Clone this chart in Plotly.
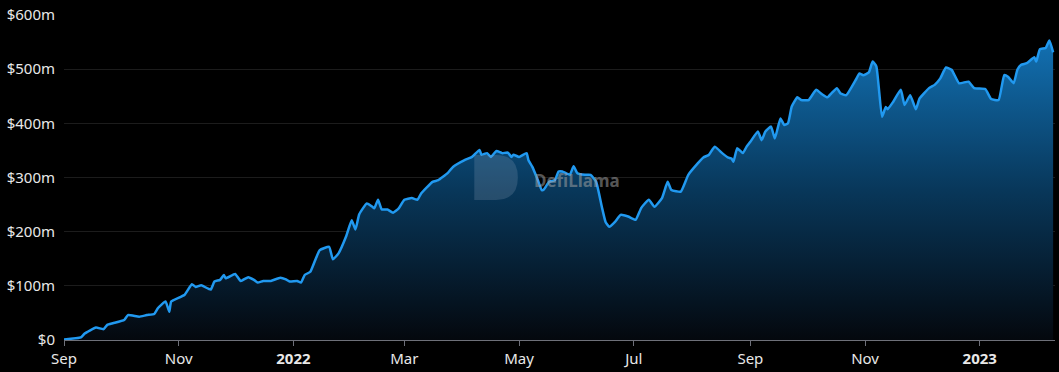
import plotly.graph_objects as go

dates = [
    "2021-09-01", "2021-09-10", "2021-09-12", "2021-09-18", "2021-09-22", "2021-09-24", "2021-09-27",
    "2021-10-03", "2021-10-05", "2021-10-11", "2021-10-15", "2021-10-19", "2021-10-21", "2021-10-25",
    "2021-10-27", "2021-10-28", "2021-11-04", "2021-11-08", "2021-11-10", "2021-11-13", "2021-11-18",
    "2021-11-20", "2021-11-23", "2021-11-25", "2021-11-26", "2021-12-01", "2021-12-04", "2021-12-08",
    "2021-12-11", "2021-12-13", "2021-12-16", "2021-12-20", "2021-12-25", "2021-12-28", "2021-12-30",
    "2022-01-03", "2022-01-05", "2022-01-07", "2022-01-10", "2022-01-13", "2022-01-15", "2022-01-20",
    "2022-01-22", "2022-01-25", "2022-01-29", "2022-02-01", "2022-02-03", "2022-02-05", "2022-02-09",
    "2022-02-12", "2022-02-13", "2022-02-15", "2022-02-17", "2022-02-20", "2022-02-23", "2022-02-26",
    "2022-03-01", "2022-03-05", "2022-03-08", "2022-03-10", "2022-03-16", "2022-03-19", "2022-03-24",
    "2022-03-27", "2022-04-02", "2022-04-06", "2022-04-10", "2022-04-11", "2022-04-14", "2022-04-16",
    "2022-04-19", "2022-04-22", "2022-04-25", "2022-04-27", "2022-04-28", "2022-05-01", "2022-05-05",
    "2022-05-06", "2022-05-08", "2022-05-11", "2022-05-13", "2022-05-14", "2022-05-17", "2022-05-20",
    "2022-05-22", "2022-05-24", "2022-05-28", "2022-05-30", "2022-06-01", "2022-06-05", "2022-06-08",
    "2022-06-11", "2022-06-14", "2022-06-16", "2022-06-18", "2022-06-21", "2022-06-24", "2022-06-28",
    "2022-07-02", "2022-07-05", "2022-07-09", "2022-07-12", "2022-07-16", "2022-07-19", "2022-07-21",
    "2022-07-26", "2022-07-30", "2022-08-04", "2022-08-07", "2022-08-10", "2022-08-13", "2022-08-17",
    "2022-08-20", "2022-08-22", "2022-08-23", "2022-08-25", "2022-08-28", "2022-08-30", "2022-09-01",
    "2022-09-05", "2022-09-07", "2022-09-09", "2022-09-12", "2022-09-14", "2022-09-17", "2022-09-19",
    "2022-09-21", "2022-09-23", "2022-09-26", "2022-09-28", "2022-10-02", "2022-10-06", "2022-10-09",
    "2022-10-12", "2022-10-14", "2022-10-17", "2022-10-19", "2022-10-22", "2022-10-27", "2022-10-29",
    "2022-10-31", "2022-11-03", "2022-11-05", "2022-11-07", "2022-11-10", "2022-11-12", "2022-11-13",
    "2022-11-16", "2022-11-20", "2022-11-22", "2022-11-25", "2022-11-28", "2022-11-30", "2022-12-05",
    "2022-12-08", "2022-12-11", "2022-12-14", "2022-12-17", "2022-12-21", "2022-12-26", "2022-12-29",
    "2023-01-04", "2023-01-07", "2023-01-11", "2023-01-14", "2023-01-16", "2023-01-19", "2023-01-21",
    "2023-01-23", "2023-01-26", "2023-01-30", "2023-01-31", "2023-02-02", "2023-02-05", "2023-02-07",
    "2023-02-09",
]

tvl_millions = [
    1, 5, 12, 23, 20, 28, 31,
    37, 46, 43, 46, 48, 59, 71,
    52, 71, 83, 103, 98, 101, 93,
    108, 111, 120, 114, 122, 109, 116,
    111, 106, 109, 109, 115, 112, 108,
    109, 106, 120, 126, 151, 166, 172,
    149, 160, 191, 221, 204, 232, 252,
    246, 243, 259, 241, 241, 235, 243,
    259, 262, 259, 271, 292, 295, 308,
    320, 332, 338, 351, 342, 345, 338,
    349, 345, 346, 338, 342, 338, 345,
    332, 320, 295, 277, 277, 292, 295,
    311, 311, 305, 321, 308, 305, 305,
    292, 246, 218, 209, 218, 231, 228,
    222, 244, 259, 246, 262, 292, 277,
    274, 305, 326, 337, 342, 357, 345,
    337, 335, 329, 354, 345, 357, 366,
    385, 369, 385, 394, 372, 409, 397,
    400, 431, 448, 443, 443, 462, 454,
    448, 455, 465, 455, 452, 480, 492,
    489, 494, 514, 505, 412, 430, 426,
    440, 462, 434, 452, 426, 446, 465,
    471, 483, 503, 499, 474, 477, 465,
    463, 445, 443, 489, 486, 474, 499,
    508, 511, 522, 514, 537, 539, 553,
    531,
]

tick_dates = ["2021-09-01", "2021-11-01", "2022-01-01", "2022-03-01", "2022-05-01",
              "2022-07-01", "2022-09-01", "2022-11-01", "2023-01-01"]
tick_labels = ["Sep", "Nov", "<b>2022</b>", "Mar", "May", "Jul", "Sep", "Nov", "<b>2023</b>"]

y_ticks = [0, 100, 200, 300, 400, 500, 600]
y_labels = ["$0", "$100m", "$200m", "$300m", "$400m", "$500m", "$600m"]

fig = go.Figure()
fig.add_trace(go.Scatter(
    x=dates, y=tvl_millions, mode="lines",
    line=dict(color="#2199F0", width=2.5, shape="spline", smoothing=0.4),
    fill="tozeroy",
    fillgradient=dict(type="vertical",
                      colorscale=[[0, "rgba(4,8,14,1)"], [0.5, "rgba(8,55,90,1)"], [1, "rgba(18,112,178,1)"]]),
    hoverinfo="skip",
))

# DefiLlama watermark
fig.add_shape(type="path", xref="paper", yref="paper",
              path="M 0.414 0.431 L 0.414 0.569 L 0.436 0.569 Q 0.458 0.569 0.458 0.5 Q 0.458 0.431 0.436 0.431 Z",
              fillcolor="rgba(150,170,190,0.22)", line=dict(width=0), layer="above")
fig.add_annotation(xref="paper", yref="paper", x=0.518, y=0.492, text="<b>DefiLlama</b>",
                   showarrow=False, font=dict(family="Noto Sans", size=17, color="rgba(160,160,160,0.55)"))

fig.update_layout(
    width=1059, height=372,
    margin=dict(l=64, r=4, t=15, b=32),
    paper_bgcolor="#000000", plot_bgcolor="#000000",
    showlegend=False,
    font=dict(family="Noto Sans", size=15, color="#e8e8e8"),
    xaxis=dict(
        range=["2021-09-01", "2023-02-10"],
        tickvals=tick_dates, ticktext=tick_labels,
        showgrid=False, zeroline=False,
        showline=True, linecolor="#6e7079", linewidth=1,
        ticks="outside", ticklen=5, tickcolor="#6e7079",
        tickfont=dict(size=15, color="#e8e8e8"),
    ),
    yaxis=dict(
        range=[0, 600], tickvals=y_ticks, ticktext=y_labels,
        showgrid=True, gridcolor="#1c1c1c", gridwidth=1,
        zeroline=False, showline=False, ticks="",
        ticklabelstandoff=8,
        tickfont=dict(size=15, color="#e8e8e8"),
    ),
)

fig.write_html("out.html", config={"displayModeBar": False})
